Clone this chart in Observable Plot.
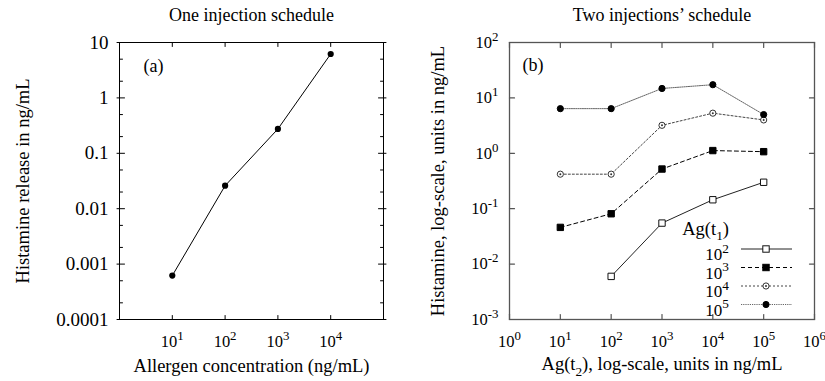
<!DOCTYPE html>
<html><head><meta charset="utf-8">
<script src="https://cdn.jsdelivr.net/npm/d3@7"></script>
<script src="https://cdn.jsdelivr.net/npm/@observablehq/plot@0.6"></script>
<style>
body{margin:0;background:#fff;}
#wrap{display:flex;width:825px;height:381px;overflow:hidden;background:#fff;}
#wrap svg{flex:0 0 auto;font-family:'Liberation Serif','Times New Roman',serif;}
#wrap svg text{font-family:'Liberation Serif','Times New Roman',serif;}
</style></head><body><div id="wrap"></div>
<script>
// ---------- Panel (a) data ----------
const aTitle = "One injection schedule";
const aXLabel = "Allergen concentration (ng/mL)";
const aYLabel = "Histamine release in ng/mL";
const aConc = [10, 100, 1000, 10000];
const aHist = [0.00062, 0.026, 0.275, 6.2];
const aXTicks = [10, 100, 1000, 10000];
const aYTicks = [10, 1, 0.1, 0.01, 0.001, 0.0001];
const aYTickLabels = ["10", "1", "0.1", "0.01", "0.001", "0.0001"];
const aYMinor = [0.0002, 0.0005, 0.002, 0.005, 0.02, 0.05, 0.2, 0.5, 2, 5];

// ---------- Panel (b) data ----------
const bTitle = "Two injections\u2019 schedule";
const bXLabel = "Ag(t_{2}), log-scale, units in ng/mL";
const bYLabel = "Histamine, log-scale, units in ng/mL";
const bLegendTitle = "Ag(t_{1})";
const bAg2 = [10, 100, 1000, 10000, 100000];
const bSeriesNames = ["10^{2}", "10^{3}", "10^{4}", "10^{5}"];
const bHist2 = [null, 0.006, 0.055, 0.145, 0.30];
const bHist3 = [0.046, 0.081, 0.52, 1.12, 1.07];
const bHist4 = [0.42, 0.42, 3.2, 5.3, 4.0];
const bHist5 = [6.4, 6.4, 14.8, 17.3, 5.0];
const bXTicks = [1, 10, 100, 1000, 10000, 100000, 1000000];
const bYTicks = [0.001, 0.01, 0.1, 1, 10, 100];

const FONT = "'Liberation Serif', 'Times New Roman', serif";
const STYLE = "font-family: 'Liberation Serif', 'Times New Roman', serif; font-size: 16px; background: white; color: black;";
const pow10 = d => "10^{" + Math.round(Math.log10(d)) + "}";

// tick shapes for vector marks
const S = {
  right: {draw(c, l) { c.moveTo(0, 0); c.lineTo(l, 0); }},
  left: {draw(c, l) { c.moveTo(0, 0); c.lineTo(-l, 0); }},
  up: {draw(c, l) { c.moveTo(0, 0); c.lineTo(0, -l); }},
  down: {draw(c, l) { c.moveTo(0, 0); c.lineTo(0, l); }},
  crossRight: {draw(c, l) { c.moveTo(-2.5, 0); c.lineTo(l, 0); }},
  crossLeft: {draw(c, l) { c.moveTo(2.5, 0); c.lineTo(-l, 0); }}
};
const tY = (vals, side, shape, len, stroke, sw) =>
  Plot.vector(vals, {y: d => d, frameAnchor: side, length: len, anchor: "start", shape, stroke, strokeWidth: sw});
const tX = (vals, side, shape, len, stroke, sw) =>
  Plot.vector(vals, {x: d => d, frameAnchor: side, length: len, anchor: "start", shape, stroke, strokeWidth: sw});
const label = (txt, opts) => Plot.text([txt], {text: d => d, textAnchor: "middle", lineAnchor: "middle", fontSize: 18.5, fontFamily: FONT, ...opts});

// ---------- Plot (a) ----------
const aData = aConc.map((c, i) => ({c, h: aHist[i]}));
const plotA = Plot.plot({
  width: 410, height: 381,
  marginLeft: 119, marginRight: 27, marginTop: 42, marginBottom: 62,
  x: {type: "log", domain: [1, 1e5]},
  y: {type: "log", domain: [1e-4, 10]},
  style: STYLE,
  marks: [
    Plot.frame({stroke: "black", strokeWidth: 1}),
    tX(aXTicks, "bottom", S.up, 4, "black", 1),
    tX(aXTicks, "top", S.down, 4, "black", 1),
    tY(aYTicks, "left", S.crossRight, 5, "black", 1),
    tY(aYTicks, "right", S.crossLeft, 5, "black", 1),
    tY(aYMinor, "left", S.right, 3, "black", 1),
    tY(aYMinor, "right", S.left, 3, "black", 1),
    Plot.axisX({ticks: aXTicks, tickSize: 0, tickPadding: 16, tickFormat: pow10, label: null, fontSize: 16.5, fontFamily: FONT}),
    Plot.axisY({ticks: aYTicks, tickSize: 0, tickPadding: 11, tickFormat: d => aYTickLabels[aYTicks.indexOf(d)], label: null, fontSize: 19, fontFamily: FONT}),
    Plot.line(aData, {x: "c", y: "h", stroke: "black", strokeWidth: 1}),
    Plot.dot(aData, {x: "c", y: "h", r: 3.1, fill: "black", stroke: "none"}),
    label(aTitle, {frameAnchor: "top", dy: -27, fontSize: 18}),
    label(aXLabel, {frameAnchor: "bottom", dy: 47}),
    label(aYLabel, {frameAnchor: "left", dx: -96, rotate: -90}),
    label("(a)", {frameAnchor: "top-left", textAnchor: "start", dx: 24, dy: 24, fontSize: 18})
  ]
});

// ---------- Plot (b) ----------
const series = [bHist2, bHist3, bHist4, bHist5];
const bStyles = [
  {stroke: "#222", dash: null, symbol: "square", fill: "white", mstroke: "#111", dotc: false},
  {stroke: "#000", dash: "4,3", symbol: "square", fill: "black", mstroke: "black", dotc: false},
  {stroke: "#444", dash: "2,2", symbol: "circle", fill: "white", mstroke: "#333", dotc: true},
  {stroke: "#666", dash: "1.2,1", symbol: "circle", fill: "black", mstroke: "black", dotc: false}
];
const seriesData = series.map(vals => bAg2.map((x, i) => ({x, y: vals[i]})).filter(d => d.y != null));
const bMarks = [];
seriesData.forEach((data, k) => {
  const st = bStyles[k];
  bMarks.push(Plot.line(data, {x: "x", y: "y", stroke: st.stroke, strokeWidth: 1, strokeDasharray: st.dash}));
});
seriesData.forEach((data, k) => {
  const st = bStyles[k];
  bMarks.push(Plot.dot(data, {x: "x", y: "y", symbol: st.symbol, r: st.symbol === "square" ? 3.6 : 3.1, fill: st.fill, stroke: st.mstroke, strokeWidth: 1}));
  if (st.dotc) bMarks.push(Plot.dot(data, {x: "x", y: "y", r: 1, fill: "#333", stroke: "none"}));
});

const FR = "#555";
const plotB = Plot.plot({
  width: 415, height: 381,
  marginLeft: 99, marginRight: 11, marginTop: 42, marginBottom: 62,
  x: {type: "log", domain: [1, 1e6]},
  y: {type: "log", domain: [1e-3, 100]},
  style: STYLE,
  marks: [
    Plot.frame({stroke: FR, strokeWidth: 1.3}),
    tX(bXTicks, "bottom", S.up, 5, FR, 1.2),
    tX(bXTicks, "top", S.down, 5, FR, 1.2),
    tY(bYTicks, "left", S.right, 5, FR, 1.2),
    tY(bYTicks, "right", S.left, 5, FR, 1.2),
    Plot.axisX({ticks: bXTicks, tickSize: 0, tickPadding: 16, tickFormat: pow10, label: null, fontSize: 16.5, fontFamily: FONT}),
    Plot.axisY({ticks: bYTicks, tickSize: 0, tickPadding: 11, tickFormat: pow10, label: null, fontSize: 16.5, fontFamily: FONT}),
    ...bMarks,
    label(bTitle, {frameAnchor: "top", dy: -27, fontSize: 18}),
    label(bXLabel, {frameAnchor: "bottom", dy: 45}),
    label(bYLabel, {frameAnchor: "left", dx: -71, rotate: -90}),
    label("(b)", {frameAnchor: "top-left", textAnchor: "start", dx: 13, dy: 23, fontSize: 18})
  ]
});

// ---------- legend for (b) ----------
const lg = d3.select(plotB).append("g").attr("aria-label", "legend").attr("font-size", 17)
  .attr("font-family", FONT).attr("fill", "black");
lg.append("text").attr("x", 319).attr("y", 235).attr("text-anchor", "end").attr("font-size", 18.5).text(bLegendTitle);
const legendY = [249, 267.5, 286, 304.5];
bSeriesNames.forEach((name, k) => {
  const st = bStyles[k], y = legendY[k];
  lg.append("text").attr("x", 319).attr("y", y + 11).attr("text-anchor", "end").text(name);
  lg.append("line").attr("x1", 331).attr("x2", 382).attr("y1", y).attr("y2", y)
    .attr("stroke", st.stroke).attr("stroke-width", 1).attr("stroke-dasharray", st.dash);
  if (st.symbol === "square") {
    lg.append("rect").attr("x", 356 - 3.2).attr("y", y - 3.2).attr("width", 6.4).attr("height", 6.4)
      .attr("fill", st.fill).attr("stroke", st.mstroke).attr("stroke-width", 1);
  } else {
    lg.append("circle").attr("cx", 356).attr("cy", y).attr("r", 3.1)
      .attr("fill", st.fill).attr("stroke", st.mstroke).attr("stroke-width", 1);
    if (st.dotc) lg.append("circle").attr("cx", 356).attr("cy", y).attr("r", 1).attr("fill", "#333");
  }
});

const wrap = document.getElementById("wrap");
wrap.appendChild(plotA);
wrap.appendChild(plotB);

// ---------- superscripts / subscripts as real tspans ----------
function richify(svg) {
  const NS = "http://www.w3.org/2000/svg";
  svg.querySelectorAll("text").forEach(el => {
    if (el.querySelector("tspan")) return;
    const s = el.textContent;
    if (!/[\^_]\{/.test(s)) return;
    const re = /([\^_])\{([^}]*)\}/g;
    const parts = [];
    let last = 0, m;
    while ((m = re.exec(s))) {
      if (m.index > last) parts.push({t: s.slice(last, m.index), o: 0});
      parts.push({t: m[2], o: m[1] === "^" ? -1 : 1});
      last = re.lastIndex;
    }
    if (last < s.length) parts.push({t: s.slice(last), o: 0});
    const base = parseFloat(getComputedStyle(el).fontSize) || 16;
    el.textContent = "";
    let cur = 0;
    for (const p of parts) {
      const ts = document.createElementNS(NS, "tspan");
      const target = p.o === -1 ? -0.42 * base : p.o === 1 ? 0.28 * base : 0;
      if (target !== cur) ts.setAttribute("dy", (target - cur).toFixed(2));
      cur = target;
      if (p.o) ts.setAttribute("font-size", ((p.o === -1 ? 0.78 : 0.72) * base).toFixed(1));
      ts.textContent = p.t;
      el.appendChild(ts);
    }
  });
}
richify(plotA);
richify(plotB);
</script>
</body></html>
